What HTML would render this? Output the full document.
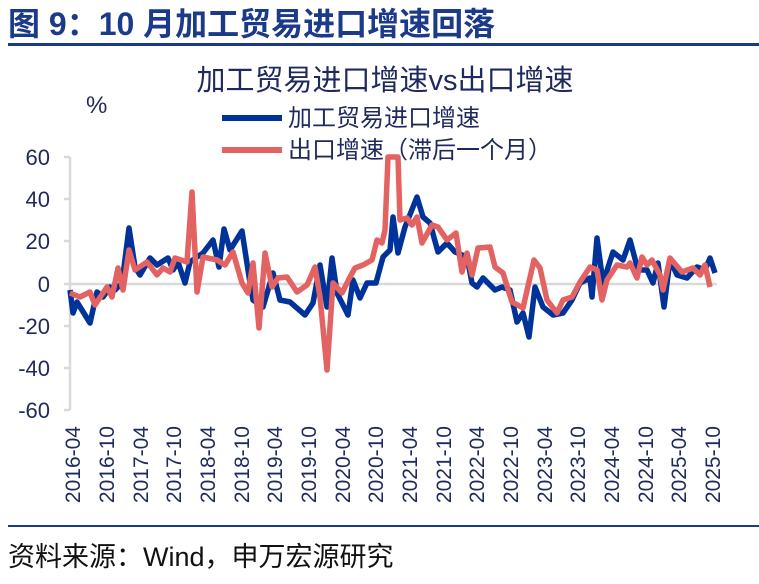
<!DOCTYPE html>
<html><head><meta charset="utf-8"><style>
body{margin:0;background:#fff;width:759px;height:579px;overflow:hidden;font-family:"Liberation Sans","Noto Sans CJK SC",sans-serif}
</style></head><body>
<svg width="759" height="579" xmlns="http://www.w3.org/2000/svg" style="font-family:'Liberation Sans','Noto Sans CJK SC',sans-serif">
<text x="8" y="35" font-size="32" font-weight="bold" fill="#1c3a8a">图 9：10 月加工贸易进口增速回落</text>
<rect x="8" y="43" width="751" height="3" fill="#1c3a8a"/>
<rect x="8" y="525" width="751" height="2" fill="#1c3a8a"/>
<text x="8" y="566" font-size="27" fill="#111">资料来源：Wind，申万宏源研究</text>
<text x="385" y="90" font-size="29" fill="#1f2a5c" text-anchor="middle">加工贸易进口增速vs出口增速</text>
<text x="86" y="113" font-size="24" fill="#1f2a5c">%</text>
<line x1="222" y1="118" x2="282" y2="118" stroke="#003399" stroke-width="6"/>
<text x="288" y="126" font-size="24" fill="#1f2a5c">加工贸易进口增速</text>
<line x1="222" y1="150" x2="282" y2="150" stroke="#e36262" stroke-width="6"/>
<text x="288" y="158" font-size="24" fill="#1f2a5c">出口增速（滞后一个月）</text>
<g stroke="#d9d9d9" stroke-width="2.5">
<line x1="70" y1="157" x2="70" y2="410"/>
<line x1="70" y1="284" x2="717" y2="284"/>
<line x1="64" y1="157" x2="70" y2="157"/><line x1="64" y1="199" x2="70" y2="199"/><line x1="64" y1="241" x2="70" y2="241"/><line x1="64" y1="284" x2="70" y2="284"/><line x1="64" y1="326" x2="70" y2="326"/><line x1="64" y1="368" x2="70" y2="368"/><line x1="64" y1="410" x2="70" y2="410"/>
</g>
<g font-size="22" fill="#1f2a5c" text-anchor="end">
<text x="50" y="165">60</text><text x="50" y="207">40</text><text x="50" y="249">20</text><text x="50" y="292">0</text><text x="50" y="334">-20</text><text x="50" y="376">-40</text><text x="50" y="418">-60</text>
</g>
<g font-size="21" fill="#1f2a5c" text-anchor="end">
<text transform="translate(80,426) rotate(-90)">2016-04</text>
<text transform="translate(114,426) rotate(-90)">2016-10</text>
<text transform="translate(148,426) rotate(-90)">2017-04</text>
<text transform="translate(181,426) rotate(-90)">2017-10</text>
<text transform="translate(215,426) rotate(-90)">2018-04</text>
<text transform="translate(249,426) rotate(-90)">2018-10</text>
<text transform="translate(282,426) rotate(-90)">2019-04</text>
<text transform="translate(316,426) rotate(-90)">2019-10</text>
<text transform="translate(350,426) rotate(-90)">2020-04</text>
<text transform="translate(383,426) rotate(-90)">2020-10</text>
<text transform="translate(417,426) rotate(-90)">2021-04</text>
<text transform="translate(451,426) rotate(-90)">2021-10</text>
<text transform="translate(484,426) rotate(-90)">2022-04</text>
<text transform="translate(518,426) rotate(-90)">2022-10</text>
<text transform="translate(552,426) rotate(-90)">2023-04</text>
<text transform="translate(585,426) rotate(-90)">2023-10</text>
<text transform="translate(619,426) rotate(-90)">2024-04</text>
<text transform="translate(653,426) rotate(-90)">2024-10</text>
<text transform="translate(686,426) rotate(-90)">2025-04</text>
<text transform="translate(720,426) rotate(-90)">2025-10</text>
</g>
<polyline fill="none" stroke="#003399" stroke-width="5.5" stroke-linejoin="round" points="70,290 73,313 77,302 90,323 97,292 103,297 110,287 115,290 122,283 129,228 135,267 140,275 150,258 157,265 168,258 173,270 178,262 185,283 190,262 197,257 203,253 213,240 219,267 224,229 230,250 242,231 250,283 253,300 263,307 273,273 280,300 290,302 305,315 313,303 320,265 327,307 332,258 337,293 348,315 353,280 360,298 367,283 376,283 383,257 390,250 393,217 398,253 405,227 417,197 423,217 430,223 438,252 447,243 455,252 467,257 472,283 477,287 483,278 495,290 502,287 510,290 517,322 523,313 529,337 535,287 543,307 553,315 563,313 572,300 580,283 590,278 592,297 597,238 603,283 613,252 623,260 630,240 638,270 647,270 653,283 658,263 664,307 670,260 677,275 687,278 697,267 705,270 710,258 715,273"/>
<polyline fill="none" stroke="#e36262" stroke-width="5.5" stroke-linejoin="round" points="70,293 80,297 90,292 95,305 107,287 112,297 118,268 123,290 129,250 135,270 147,262 157,275 163,268 170,272 175,258 187,262 192,192 197,292 203,257 217,260 225,265 233,252 242,283 248,293 253,263 259,328 265,253 272,287 278,278 287,277 297,292 307,285 315,267 320,297 327,370 333,283 342,293 350,277 355,268 363,265 372,260 377,240 382,243 385,230 388,157 398,157 400,220 407,218 412,225 417,217 422,243 432,225 438,227 447,240 456,233 462,272 467,253 472,275 478,248 490,247 495,267 503,273 512,302 523,308 534,260 540,268 547,300 557,313 563,300 572,297 580,282 590,267 597,270 602,300 607,280 617,265 627,267 630,263 637,278 642,257 647,265 652,260 660,275 663,290 670,258 682,272 693,268 700,275 705,265 710,287"/>
</svg>
</body></html>
